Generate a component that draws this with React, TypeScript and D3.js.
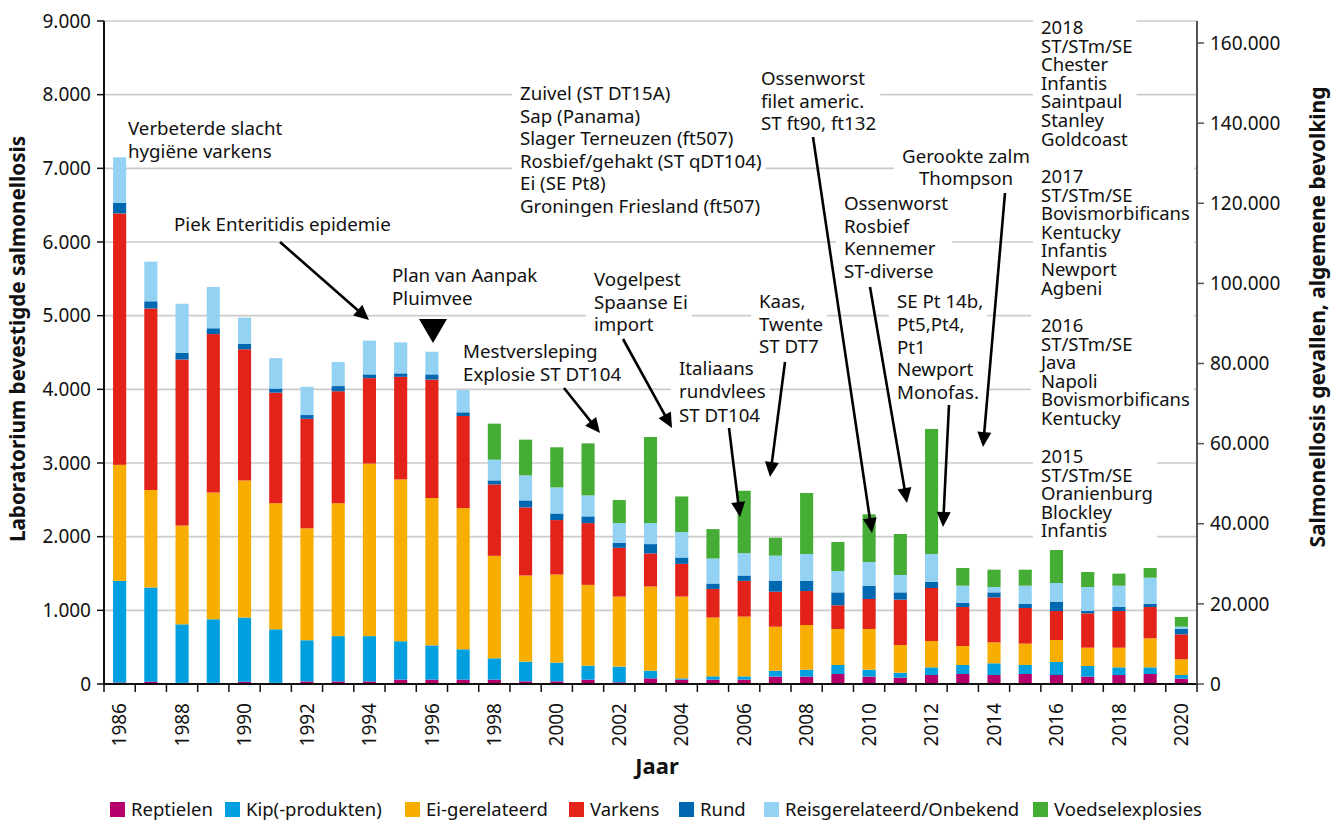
import React, { useEffect, useRef } from "react";
import * as d3 from "d3";

const years = [1986, 1987, 1988, 1989, 1990, 1991, 1992, 1993, 1994, 1995, 1996, 1997, 1998, 1999, 2000, 2001, 2002, 2003, 2004, 2005, 2006, 2007, 2008, 2009, 2010, 2011, 2012, 2013, 2014, 2015, 2016, 2017, 2018, 2019, 2020];

const reptielen = [20, 30, 15, 15, 30, 15, 35, 35, 35, 60, 60, 59, 59, 36, 36, 59, 23, 77, 59, 59, 59, 100, 100, 136, 100, 86, 122, 136, 122, 136, 122, 100, 122, 136, 72];
const kip = [1380, 1280, 795, 864, 872, 728, 559, 615, 615, 520, 464, 412, 290, 268, 254, 190, 213, 104, 18, 45, 45, 81, 95, 122, 95, 68, 104, 122, 159, 122, 177, 144, 104, 90, 50];
const ei = [1575, 1323, 1341, 1720, 1861, 1711, 1519, 1804, 2342, 2197, 2001, 1917, 1391, 1169, 1196, 1097, 951, 1142, 1110, 798, 811, 597, 606, 489, 552, 375, 358, 258, 285, 290, 298, 249, 267, 394, 213];
const varkens = [3413, 2464, 2254, 2151, 1781, 1501, 1487, 1520, 1160, 1393, 1608, 1250, 970, 924, 739, 838, 662, 449, 444, 389, 485, 475, 461, 321, 407, 616, 719, 529, 610, 484, 394, 466, 498, 425, 339];
const rund = [145, 98, 89, 79, 75, 56, 51, 70, 51, 47, 70, 50, 54, 95, 90, 91, 68, 127, 86, 73, 73, 150, 141, 176, 181, 99, 82, 55, 68, 54, 127, 32, 54, 41, 73];
const reis = [617, 538, 668, 561, 355, 412, 384, 327, 458, 421, 308, 302, 281, 340, 354, 285, 267, 285, 345, 340, 303, 339, 362, 290, 321, 236, 380, 235, 73, 249, 253, 326, 290, 357, 31];
const voedsel = [0, 0, 0, 0, 0, 0, 0, 0, 0, 0, 0, 0, 489, 485, 544, 707, 313, 1169, 484, 398, 847, 244, 828, 394, 647, 556, 1697, 240, 235, 217, 448, 203, 163, 132, 132];

const seriesNames = ["Reptielen", "Kip(-produkten)", "Ei-gerelateerd", "Varkens", "Rund", "Reisgerelateerd/Onbekend", "Voedselexplosies"];
const seriesValues = [reptielen, kip, ei, varkens, rund, reis, voedsel];
const seriesColors = ["#b5006b", "#009fe0", "#f8ae00", "#e3231a", "#0067b1", "#94d2f3", "#45ac36"];

const leftTicks = [0, 1000, 2000, 3000, 4000, 5000, 6000, 7000, 8000, 9000];
const rightTicks = [0, 20000, 40000, 60000, 80000, 100000, 120000, 140000, 160000];
const labelYears = [1986, 1988, 1990, 1992, 1994, 1996, 1998, 2000, 2002, 2004, 2006, 2008, 2010, 2012, 2014, 2016, 2018, 2020];

const leftMax = 9000;
const rightMax = 165500;

const FONT = "'Noto Sans', 'Open Sans', sans-serif";

type Annot = { x: number; y: number; lines: string[]; lh: number; anchor?: string; fs?: number; arrow?: number[][] };

const annotations: Annot[] = [
  { x: 128, y: 135, lh: 22.5, lines: ["Verbeterde slacht", "hygiëne varkens"] },
  { x: 174, y: 231, lh: 22.5, lines: ["Piek Enteritidis epidemie"], arrow: [[280, 242], [369, 320]] },
  { x: 392, y: 282, lh: 22.5, lines: ["Plan van Aanpak", "Pluimvee"] },
  { x: 463, y: 358, lh: 23, lines: ["Mestversleping", "Explosie ST DT104"], arrow: [[564, 388], [600, 433]] },
  { x: 520, y: 100, lh: 22.6, lines: ["Zuivel (ST DT15A)", "Sap (Panama)", "Slager Terneuzen (ft507)", "Rosbief/gehakt (ST qDT104)", "Ei (SE Pt8)", "Groningen Friesland (ft507)"] },
  { x: 594, y: 286, lh: 22.5, lines: ["Vogelpest", "Spaanse Ei", "import"], arrow: [[623, 339], [672, 428]] },
  { x: 679, y: 375, lh: 23.3, lines: ["Italiaans", "rundvlees", "ST DT104"], arrow: [[729, 428], [740, 517]] },
  { x: 759, y: 308, lh: 22.5, lines: ["Kaas,", "Twente", "ST DT7"], arrow: [[785, 362], [770, 477]] },
  { x: 761, y: 85, lh: 22.6, lines: ["Ossenworst", "filet americ.", "ST ft90, ft132"], arrow: [[813, 137], [872, 533]] },
  { x: 966, y: 163, lh: 22, anchor: "middle", lines: ["Gerookte zalm", "Thompson"], arrow: [[1005, 193], [983, 447]] },
  { x: 844, y: 210, lh: 22.6, lines: ["Ossenworst", "Rosbief", "Kennemer", "ST-diverse"], arrow: [[870, 287], [907, 503]] },
  { x: 897, y: 308, lh: 22.8, lines: ["SE Pt 14b,", "Pt5,Pt4,", "Pt1", "Newport", "Monofas."], arrow: [[949, 405], [943, 527]] },
  { x: 1041, y: 34, lh: 18.6, fs: 18.5, lines: ["2018", "ST/STm/SE", "Chester", "Infantis", "Saintpaul", "Stanley", "Goldcoast"] },
  { x: 1041, y: 183, lh: 18.6, fs: 18.5, lines: ["2017", "ST/STm/SE", "Bovismorbificans", "Kentucky", "Infantis", "Newport", "Agbeni"] },
  { x: 1041, y: 332, lh: 18.6, fs: 18.5, lines: ["2016", "ST/STm/SE", "Java", "Napoli", "Bovismorbificans", "Kentucky"] },
  { x: 1041, y: 463, lh: 18.6, fs: 18.5, lines: ["2015", "ST/STm/SE", "Oranienburg", "Blockley", "Infantis"] },
];

const legendX = [110, 225, 405, 569, 679, 764, 1033];

export default function App() {
  const ref = useRef<SVGSVGElement | null>(null);

  useEffect(() => {
    const svg = d3.select(ref.current);
    svg.selectAll("*").remove();

    const left = 104, right = 1197, top = 21, bottom = 684;
    const nl = d3.formatLocale({ decimal: ",", thousands: ".", grouping: [3], currency: ["€", ""] });
    const fmt = nl.format(",");

    const x = d3.scaleBand<number>().domain(years).range([left, right]).paddingInner(0.58).paddingOuter(0.29);
    const y = d3.scaleLinear().domain([0, leftMax]).range([bottom, top]);
    const y2 = d3.scaleLinear().domain([0, rightMax]).range([bottom, top]);

    // gridlines
    const grid = svg.append("g");
    leftTicks.filter((t) => t > 0).forEach((t) => {
      grid.append("line").attr("x1", left).attr("x2", right).attr("y1", y(t)).attr("y2", y(t))
        .attr("stroke", "#cbcbcb").attr("stroke-width", 1.6);
    });

    // annotation text with white background
    const annG = svg.append("g");
    annotations.forEach((a) => {
      const g = annG.append("g");
      const bg = g.append("rect").attr("fill", "#fff");
      const t = g.append("text").attr("font-family", FONT).attr("font-size", a.fs || 18.7).attr("fill", "#111")
        .attr("text-anchor", a.anchor || "start");
      a.lines.forEach((ln, i) => {
        t.append("tspan").attr("x", a.x).attr("y", a.y + i * a.lh).text(ln);
      });
      const bb = (t.node() as SVGTextElement).getBBox();
      bg.attr("x", bb.x - 8).attr("y", bb.y - 2).attr("width", bb.width + 12).attr("height", bb.height + 3);
    });

    // bars
    const table = years.map((yr, i) => {
      const o: any = { year: yr };
      seriesNames.forEach((n, k) => (o[n] = seriesValues[k][i]));
      return o;
    });
    const stack = d3.stack<any>().keys(seriesNames)(table);
    const barsG = svg.append("g");
    stack.forEach((layer, k) => {
      barsG.append("g").attr("fill", seriesColors[k]).selectAll("rect").data(layer).enter().append("rect")
        .attr("x", (d: any) => x(d.data.year) as number)
        .attr("width", x.bandwidth())
        .attr("y", (d: any) => y(d[1]))
        .attr("height", (d: any) => Math.max(0, y(d[0]) - y(d[1])));
    });

    // axes
    const ax = svg.append("g");
    ax.append("line").attr("x1", left).attr("x2", left).attr("y1", top).attr("y2", bottom + 1).attr("stroke", "#111").attr("stroke-width", 2);
    ax.append("line").attr("x1", left - 1).attr("x2", right).attr("y1", bottom).attr("y2", bottom).attr("stroke", "#111").attr("stroke-width", 2);
    ax.append("line").attr("x1", right).attr("x2", right).attr("y1", top).attr("y2", bottom + 1).attr("stroke", "#555").attr("stroke-width", 2);

    leftTicks.forEach((t) => {
      ax.append("line").attr("x1", left - 7).attr("x2", left).attr("y1", y(t)).attr("y2", y(t)).attr("stroke", "#111").attr("stroke-width", 1.5);
      ax.append("text").attr("x", left - 13).attr("y", y(t)).attr("dy", "0.35em").attr("text-anchor", "end")
        .attr("font-family", FONT).attr("font-size", 19).attr("fill", "#111").text(fmt(t));
    });
    rightTicks.forEach((t) => {
      ax.append("line").attr("x1", right).attr("x2", right + 7).attr("y1", y2(t)).attr("y2", y2(t)).attr("stroke", "#555").attr("stroke-width", 1.5);
      ax.append("text").attr("x", right + 13).attr("y", y2(t)).attr("dy", "0.35em").attr("text-anchor", "start")
        .attr("font-family", FONT).attr("font-size", 19).attr("fill", "#111").text(fmt(t));
    });
    const step = x.step();
    years.forEach((yr, i) => {
      const bx = left + i * step;
      ax.append("line").attr("x1", bx).attr("x2", bx).attr("y1", bottom).attr("y2", bottom + 8).attr("stroke", "#111").attr("stroke-width", 1.5);
    });
    ax.append("line").attr("x1", right).attr("x2", right).attr("y1", bottom).attr("y2", bottom + 8).attr("stroke", "#111").attr("stroke-width", 1.5);
    labelYears.forEach((yr) => {
      const cx = (x(yr) as number) + x.bandwidth() / 2;
      ax.append("text").attr("transform", `translate(${cx},703) rotate(-90)`).attr("dy", "0.35em").attr("text-anchor", "end")
        .attr("font-family", FONT).attr("font-size", 19).attr("fill", "#111").text(String(yr));
    });

    // axis titles
    svg.append("text").attr("transform", "translate(18,339) rotate(-90)").attr("dy", "0.35em").attr("text-anchor", "middle")
      .attr("font-family", FONT).attr("font-weight", "bold").attr("font-size", 20.7).attr("fill", "#111")
      .text("Laboratorium bevestigde salmonellosis");
    svg.append("text").attr("transform", "translate(1318,317) rotate(-90)").attr("dy", "0.35em").attr("text-anchor", "middle")
      .attr("font-family", FONT).attr("font-weight", "bold").attr("font-size", 21).attr("fill", "#111")
      .text("Salmonellosis gevallen, algemene bevolking");
    svg.append("text").attr("x", 657).attr("y", 774).attr("text-anchor", "middle")
      .attr("font-family", FONT).attr("font-weight", "bold").attr("font-size", 22).attr("fill", "#111").text("Jaar");

    // arrows
    const arG = svg.append("g");
    annotations.forEach((a) => {
      if (!a.arrow) return;
      const [[x1, y1], [x2, y2p]] = a.arrow;
      const dx = x2 - x1, dy = y2p - y1;
      const len = Math.sqrt(dx * dx + dy * dy);
      const ux = dx / len, uy = dy / len;
      const hl = 15, hw = 7;
      const bxp = x2 - ux * hl, byp = y2p - uy * hl;
      arG.append("line").attr("x1", x1).attr("y1", y1).attr("x2", bxp + ux * 2).attr("y2", byp + uy * 2)
        .attr("stroke", "#000").attr("stroke-width", 2.6);
      arG.append("path").attr("d", `M${x2},${y2p}L${bxp - uy * hw},${byp + ux * hw}L${bxp + uy * hw},${byp - ux * hw}Z`).attr("fill", "#000");
    });
    // Plan van Aanpak marker
    arG.append("path").attr("d", "M419,319L447,319L433,343Z").attr("fill", "#000");

    // legend
    const lg = svg.append("g");
    seriesNames.forEach((n, k) => {
      lg.append("rect").attr("x", legendX[k]).attr("y", 802).attr("width", 15).attr("height", 15).attr("fill", seriesColors[k]);
      lg.append("text").attr("x", legendX[k] + 21).attr("y", 810).attr("dy", "0.35em")
        .attr("font-family", FONT).attr("font-size", 18.5).attr("fill", "#111").text(n);
    });
  }, []);

  return (
    <svg ref={ref} width={1338} height={820} style={{ position: "absolute", left: 0, top: 0, background: "#fff" }} />
  );
}
